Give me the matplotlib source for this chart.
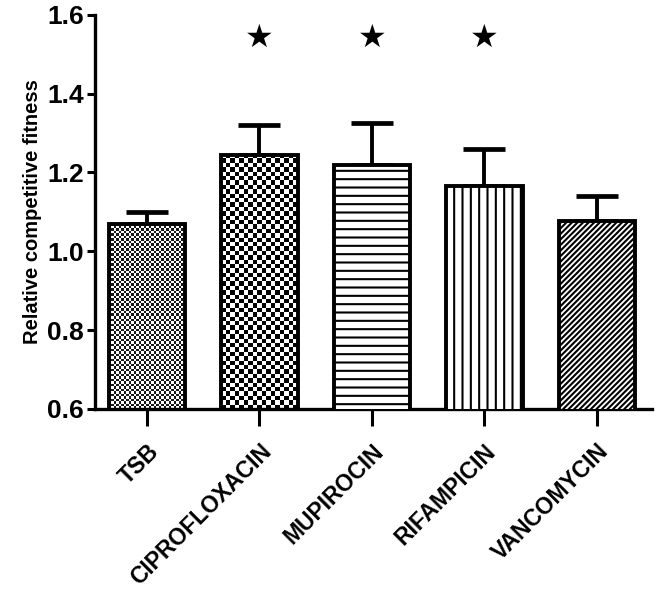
import matplotlib
matplotlib.use("Agg")
import matplotlib.pyplot as plt
import numpy as np

# data
categories = ["TSB", "CIPROFLOXACIN", "MUPIROCIN", "RIFAMPICIN", "VANCOMYCIN"]
means = [1.07, 1.245, 1.22, 1.165, 1.078]
sem = [0.03, 0.075, 0.105, 0.095, 0.062]
significant = [False, True, True, True, False]
star_level = 1.54

plt.rcParams["font.family"] = ["Liberation Sans", "DejaVu Sans"]
plt.rcParams["font.weight"] = "bold"
plt.rcParams["hatch.linewidth"] = 1.5

fig = plt.figure(figsize=(6.66, 5.91), dpi=100)
ax = fig.add_axes([0.143, 0.308, 0.836, 0.667])

x = np.arange(len(categories))
ax.set_xlim(-0.46, len(categories) - 1 + 0.49)
ax.set_ylim(0.6, 1.6)

faces = ["none", "none", "white", "white", "white"]
bars = ax.bar(x, means, width=0.68, color=faces, edgecolor="black",
              linewidth=2.8, zorder=3)
ax.errorbar(x, means, yerr=[np.zeros(len(sem)), sem], fmt="none",
            ecolor="black", elinewidth=2.8, capsize=15, capthick=3.4, zorder=2)

# fill patterns
hatches = [None, None, "--", "||", "//////"]
for b, h in zip(bars, hatches):
    if h:
        b.set_hatch(h)


def checker(bar, cell_px, shade):
    x0, w, h = bar.get_x(), bar.get_width(), bar.get_height()
    p0 = ax.transData.transform((x0, 0.6))
    p1 = ax.transData.transform((x0 + w, h))
    nx = max(int(round(abs(p1[0] - p0[0]) / cell_px)), 1)
    ny = max(int(round(abs(p1[1] - p0[1]) / cell_px)), 1)
    ii, jj = np.indices((ny, nx))
    img = ((ii + jj) % 2).astype(float) * shade
    im = ax.imshow(img, cmap="gray_r", vmin=0, vmax=1, extent=(x0, x0 + w, 0.6, h),
                   aspect="auto", interpolation="nearest", zorder=2.5)
    im.set_clip_path(bar)


checker(bars[0], 2.5, 0.9)
checker(bars[1], 4.4, 1.0)
ax.set_xlim(-0.46, len(categories) - 1 + 0.49)
ax.set_ylim(0.6, 1.6)

for xi, s in zip(x, significant):
    if s:
        ax.text(xi, star_level, "\u2605", ha="center", va="center", fontsize=23,
                family="DejaVu Sans", color="black")

for side in ["top", "right"]:
    ax.spines[side].set_visible(False)
for side in ["left", "bottom"]:
    ax.spines[side].set_linewidth(2.4)

ax.set_yticks([0.6, 0.8, 1.0, 1.2, 1.4, 1.6])
ax.set_yticklabels(["0.6", "0.8", "1.0", "1.2", "1.4", "1.6"])
ax.tick_params(axis="y", length=6, width=2.2, labelsize=19, pad=2)
ax.set_xticks(x)
ax.set_xticklabels(categories, rotation=45, ha="right", rotation_mode="anchor")
ax.tick_params(axis="x", length=12, width=2.2, labelsize=16.5, pad=10)
ax.set_ylabel("Relative competitive fitness", fontsize=14.5, fontweight="bold", labelpad=4)

fig.savefig("out.png", dpi=100)
